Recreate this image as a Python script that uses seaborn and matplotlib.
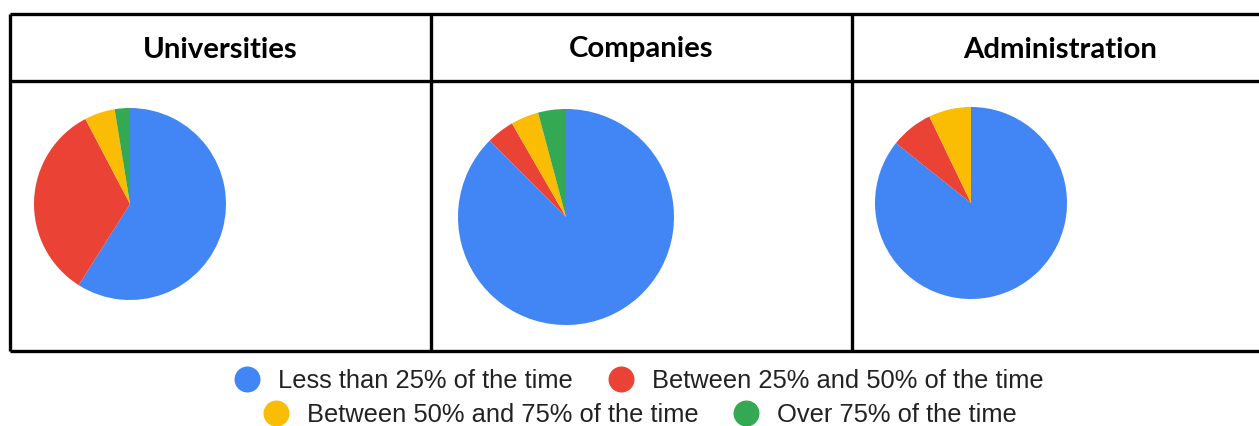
import matplotlib
matplotlib.use("Agg")
import matplotlib.pyplot as plt
from matplotlib.lines import Line2D
import seaborn as sns

# ---- data ----
groups = ["Universities", "Companies", "Administration"]
categories = ["Less than 25% of the time", "Between 25% and 50% of the time",
              "Between 50% and 75% of the time", "Over 75% of the time"]
universities = [23, 13, 2, 1]
companies = [21, 1, 1, 1]
administration = [12, 1, 1, 0]
colors = ["#4285F4", "#EA4335", "#FBBC04", "#34A853"]

sns.set_theme(style="white")
plt.rcParams["font.family"] = ["Liberation Sans", "DejaVu Sans"]

W, H = 1259, 426
fig = plt.figure(figsize=(W / 100, H / 100), dpi=100)
fig.patch.set_facecolor("white")

# background axes in pixel coordinates for table grid
bg = fig.add_axes([0, 0, 1, 1])
bg.set_xlim(0, W)
bg.set_ylim(H, 0)
bg.axis("off")
lw = 2.4
bg.hlines([14, 81, 351], 10, W + 5, color="black", lw=lw)
bg.vlines([10, 431, 852], 14, 351, color="black", lw=lw)

header_x = [220.5, 641.5, 1060]
for name, x in zip(groups, header_x):
    bg.text(x, 49.5, name, ha="center", va="center", fontsize=21.2,
            fontweight="bold", family=["Lato", "DejaVu Sans"], color="black")

def px_axes(cx, cy, r):
    return fig.add_axes([(cx - r) / W, 1 - (cy + r) / H, 2 * r / W, 2 * r / H])

pies = [(universities, 130, 204, 96), (companies, 566, 217, 108), (administration, 971, 203, 96)]
for vals, cx, cy, r in pies:
    ax = px_axes(cx, cy, r)
    ax.pie(vals, colors=colors, startangle=90, counterclock=False, radius=1,
           wedgeprops=dict(linewidth=0))
    ax.set_xlim(-1, 1)
    ax.set_ylim(-1, 1)
    ax.axis("off")

handles = [Line2D([], [], marker="o", linestyle="none", markersize=18.7,
                  markerfacecolor=c, markeredgewidth=0) for c in colors]
fs = 18.4
common = dict(loc="center", ncol=2, frameon=False, fontsize=fs, handlelength=1.0,
              handletextpad=0.72, columnspacing=1.37, borderpad=0, borderaxespad=0,
              labelcolor="#222222")
leg1 = fig.legend(handles[:2], categories[:2], bbox_to_anchor=(639 / W, 1 - 381 / H), **common)
leg2 = fig.legend(handles[2:], categories[2:], bbox_to_anchor=(640 / W, 1 - 415 / H), **common)

fig.savefig("out.png", dpi=100, facecolor="white")
